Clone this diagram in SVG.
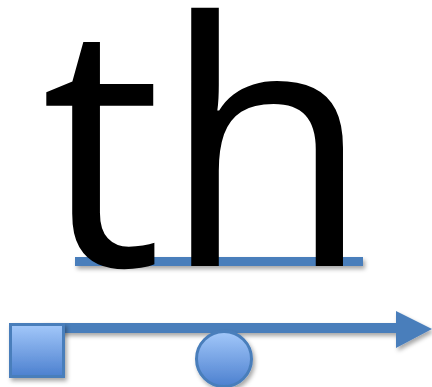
<svg xmlns="http://www.w3.org/2000/svg" width="432" height="387" viewBox="0 0 432 387">
  <style>
    .glyphs { font-family: "Open Sans", "Noto Sans", sans-serif; font-size: 340px; fill: #000; }
    .blue { fill: #4a7ebb; }
    .shape { stroke: #4a7ebb; stroke-width: 3; fill: url(#grad); }
  </style>
  <defs>
    <linearGradient id="grad" x1="0" y1="0" x2="0" y2="1">
      <stop offset="0" stop-color="#a3c8fa"/>
      <stop offset="1" stop-color="#4c80cf"/>
    </linearGradient>
    <filter id="shadow" x="-20%" y="-50%" width="140%" height="250%">
      <feDropShadow dx="2" dy="3" stdDeviation="2" flood-color="#000" flood-opacity="0.35"/>
    </filter>
  </defs>
  <rect width="432" height="387" fill="#fff"/>
  <g id="underline">
    <rect class="blue" x="75" y="257" width="288" height="9" filter="url(#shadow)"/>
  </g>
  <g id="label">
    <text class="glyphs" x="41" y="266">th</text>
  </g>
  <g id="connectors">
    <path class="blue" d="M40,323 L396,323 L396,311 L432,329 L396,348 L396,333 L40,333 Z" filter="url(#shadow)"/>
  </g>
  <g id="square-node">
    <rect class="shape" x="10.5" y="324.5" width="53" height="52" filter="url(#shadow)"/>
  </g>
  <g id="circle-node">
    <circle class="shape" cx="224" cy="359" r="27.5" filter="url(#shadow)"/>
  </g>
</svg>
